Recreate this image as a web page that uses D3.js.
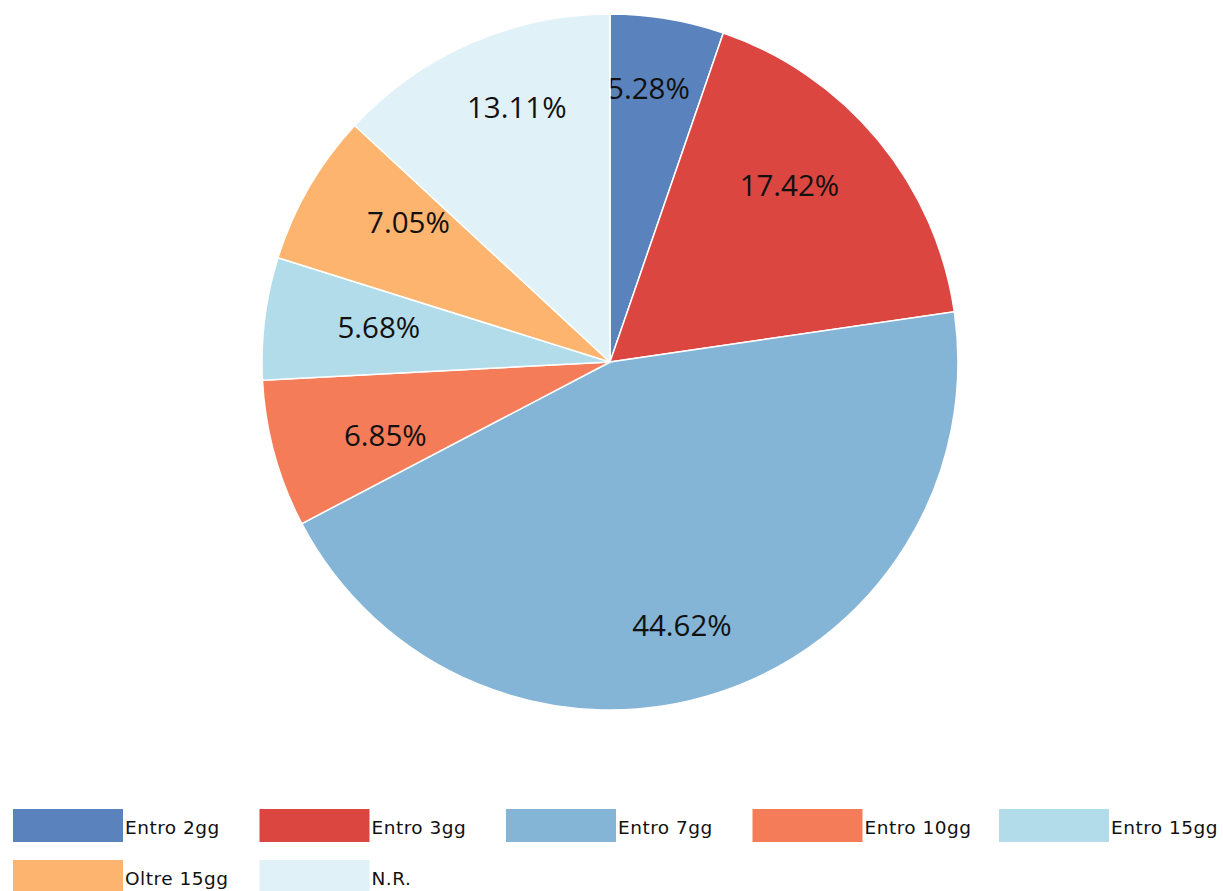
<!DOCTYPE html>
<html>
<head>
<meta charset="utf-8">
<script src="https://cdn.jsdelivr.net/npm/d3@7"></script>
<style>
	body { margin: 0; background: #fff; }
	svg { display: block; }
</style>
</head>
<body>
<svg id="chart" width="1223" height="891"></svg>
<script>
var categories = ["Entro 2gg", "Entro 3gg", "Entro 7gg", "Entro 10gg", "Entro 15gg", "Oltre 15gg", "N.R."];
var percentages = [5.28, 17.42, 44.62, 6.85, 5.68, 7.05, 13.11];
var colours = ["#5a83bd", "#db4640", "#84b4d6", "#f57c59", "#b3dcea", "#fcb46f", "#e0f2f7"];

var PieChart = {
	centerX: 610,
	centerY: 362,
	radius: 348,
	// labels sit on an ellipse (wider vertically than horizontally)
	labelRadiusX: 233,
	labelRadiusY: 277,

	render: function(svg) {
		var self = this;

		var data = categories.map(function(c, i) {
			return { name: c, value: percentages[i], colour: colours[i] };
		});

		var pie = d3.pie()
			.sort(null)
			.value(function(d) { return d.value; });
		var arc = d3.arc()
			.innerRadius(0)
			.outerRadius(self.radius);

		var g = svg.append("g")
			.attr("transform", "translate(" + self.centerX + "," + self.centerY + ")");

		var slices = g.selectAll(".slice")
			.data(pie(data))
			.enter()
			.append("g")
			.attr("class", "slice");

		slices.append("path")
			.attr("d", arc)
			.style("fill", function(d) { return d.data.colour; })
			.style("stroke", "#fff")
			.style("stroke-width", 1.5);

		slices.append("text")
			.attr("transform", function(d) {
				var midAngle = (d.startAngle + d.endAngle) / 2;
				var x = self.labelRadiusX * Math.sin(midAngle);
				var y = -self.labelRadiusY * Math.cos(midAngle);
				return "translate(" + x + "," + y + ")";
			})
			.attr("dy", "0.35em")
			.style("text-anchor", "middle")
			.style("font-family", "'Open Sans', sans-serif")
			.style("font-size", "29.5px")
			.style("fill", "#111")
			.text(function(d) { return d.data.value.toFixed(2) + "%"; });
	},

	renderLegend: function(svg) {
		// legend: 5 per row
		var perRow = 5;
		var colScale = d3.scaleLinear().domain([0, perRow - 1]).range([13, 999]);
		var rowScale = d3.scaleLinear().domain([0, 1]).range([809, 860]);

		var items = svg.selectAll(".legend-item")
			.data(categories)
			.enter()
			.append("g")
			.attr("class", "legend-item")
			.attr("transform", function(d, i) {
				return "translate(" + colScale(i % perRow) + "," + rowScale(Math.floor(i / perRow)) + ")";
			});

		items.append("rect")
			.attr("width", 110)
			.attr("height", 33)
			.style("fill", function(d, i) { return colours[i]; });

		items.append("text")
			.attr("x", 112)
			.attr("y", 25)
			.style("font-family", "'DejaVu Sans', sans-serif")
			.style("font-size", "18.5px")
			.style("letter-spacing", "0.5px")
			.style("fill", "#111")
			.text(function(d) { return d; });
	}
};

var svg = d3.select("#chart");
PieChart.render(svg);
PieChart.renderLegend(svg);
</script>
</body>
</html>
